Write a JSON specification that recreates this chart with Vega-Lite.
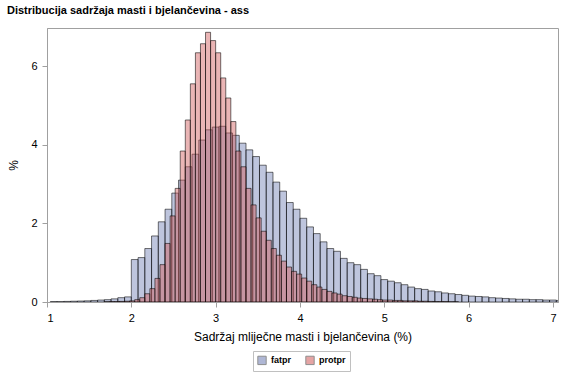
{
"$schema": "https://vega.github.io/schema/vega-lite/v6.json",
"width": 511, "height": 274,
"autosize": {"type": "none"},
"padding": {"left": 47, "top": 28, "right": 9, "bottom": 76},
"background": "white",
"title": {"text": "Distribucija sadržaja masti i bjelančevina - ass", "anchor": "start", "frame": "group", "dx": -40, "offset": 12, "font": "Liberation Sans", "fontSize": 11, "fontWeight": "bold", "color": "black"},
"config": {
  "view": {"stroke": "#a0a0a0", "strokeWidth": 1},
  "axis": {"labelFont": "Liberation Sans", "titleFont": "Liberation Sans", "labelFontSize": 11, "titleFontSize": 12, "titleFontWeight": "normal", "labelColor": "black", "titleColor": "black", "domainColor": "#a0a0a0", "tickColor": "#a0a0a0", "tickSize": 5, "grid": false},
  "legend": {"labelFont": "Liberation Sans", "labelFontSize": 10}
},
"data": {"values": [
{"s":"fatpr","a":1.04,"b":1.12,"p":0.01},{"s":"fatpr","a":1.12,"b":1.20,"p":0.01},{"s":"fatpr","a":1.20,"b":1.28,"p":0.015},{"s":"fatpr","a":1.28,"b":1.36,"p":0.02},{"s":"fatpr","a":1.36,"b":1.44,"p":0.025},{"s":"fatpr","a":1.44,"b":1.52,"p":0.03},{"s":"fatpr","a":1.52,"b":1.60,"p":0.04},{"s":"fatpr","a":1.60,"b":1.68,"p":0.05},{"s":"fatpr","a":1.68,"b":1.76,"p":0.06},{"s":"fatpr","a":1.76,"b":1.84,"p":0.08},{"s":"fatpr","a":1.84,"b":1.92,"p":0.11},{"s":"fatpr","a":1.92,"b":2.00,"p":0.13},
{"s":"fatpr","a":2.00,"b":2.08,"p":1.08},{"s":"fatpr","a":2.08,"b":2.16,"p":1.13},{"s":"fatpr","a":2.16,"b":2.24,"p":1.36},{"s":"fatpr","a":2.24,"b":2.32,"p":1.68},{"s":"fatpr","a":2.32,"b":2.40,"p":2.04},{"s":"fatpr","a":2.40,"b":2.48,"p":2.36},{"s":"fatpr","a":2.48,"b":2.56,"p":2.77},{"s":"fatpr","a":2.56,"b":2.64,"p":3.10},{"s":"fatpr","a":2.64,"b":2.72,"p":3.44},{"s":"fatpr","a":2.72,"b":2.80,"p":3.76},{"s":"fatpr","a":2.80,"b":2.88,"p":4.12},{"s":"fatpr","a":2.88,"b":2.96,"p":4.38},{"s":"fatpr","a":2.96,"b":3.04,"p":4.45},{"s":"fatpr","a":3.04,"b":3.12,"p":4.47},{"s":"fatpr","a":3.12,"b":3.20,"p":4.30},{"s":"fatpr","a":3.20,"b":3.28,"p":4.24},{"s":"fatpr","a":3.28,"b":3.36,"p":4.04},{"s":"fatpr","a":3.36,"b":3.44,"p":3.87},{"s":"fatpr","a":3.44,"b":3.52,"p":3.70},{"s":"fatpr","a":3.52,"b":3.60,"p":3.48},{"s":"fatpr","a":3.60,"b":3.68,"p":3.30},{"s":"fatpr","a":3.68,"b":3.76,"p":3.05},{"s":"fatpr","a":3.76,"b":3.84,"p":2.82},{"s":"fatpr","a":3.84,"b":3.92,"p":2.53},{"s":"fatpr","a":3.92,"b":4.00,"p":2.36},{"s":"fatpr","a":4.00,"b":4.08,"p":2.13},{"s":"fatpr","a":4.08,"b":4.16,"p":1.91},{"s":"fatpr","a":4.16,"b":4.24,"p":1.74},{"s":"fatpr","a":4.24,"b":4.32,"p":1.53},{"s":"fatpr","a":4.32,"b":4.40,"p":1.36},{"s":"fatpr","a":4.40,"b":4.48,"p":1.29},{"s":"fatpr","a":4.48,"b":4.56,"p":1.11},{"s":"fatpr","a":4.56,"b":4.64,"p":1.00},{"s":"fatpr","a":4.64,"b":4.72,"p":0.95},{"s":"fatpr","a":4.72,"b":4.80,"p":0.83},{"s":"fatpr","a":4.80,"b":4.88,"p":0.72},{"s":"fatpr","a":4.88,"b":4.96,"p":0.67},{"s":"fatpr","a":4.96,"b":5.04,"p":0.57},{"s":"fatpr","a":5.04,"b":5.12,"p":0.53},{"s":"fatpr","a":5.12,"b":5.20,"p":0.49},{"s":"fatpr","a":5.20,"b":5.28,"p":0.44},{"s":"fatpr","a":5.28,"b":5.36,"p":0.38},{"s":"fatpr","a":5.36,"b":5.44,"p":0.34},{"s":"fatpr","a":5.44,"b":5.52,"p":0.32},{"s":"fatpr","a":5.52,"b":5.60,"p":0.28},{"s":"fatpr","a":5.60,"b":5.68,"p":0.26},{"s":"fatpr","a":5.68,"b":5.76,"p":0.23},{"s":"fatpr","a":5.76,"b":5.84,"p":0.21},{"s":"fatpr","a":5.84,"b":5.92,"p":0.19},{"s":"fatpr","a":5.92,"b":6.00,"p":0.17},{"s":"fatpr","a":6.00,"b":6.08,"p":0.15},{"s":"fatpr","a":6.08,"b":6.16,"p":0.14},{"s":"fatpr","a":6.16,"b":6.24,"p":0.13},{"s":"fatpr","a":6.24,"b":6.32,"p":0.11},{"s":"fatpr","a":6.32,"b":6.40,"p":0.10},{"s":"fatpr","a":6.40,"b":6.48,"p":0.09},{"s":"fatpr","a":6.48,"b":6.56,"p":0.08},{"s":"fatpr","a":6.56,"b":6.64,"p":0.07},{"s":"fatpr","a":6.64,"b":6.72,"p":0.07},{"s":"fatpr","a":6.72,"b":6.80,"p":0.06},{"s":"fatpr","a":6.80,"b":6.88,"p":0.06},{"s":"fatpr","a":6.88,"b":6.96,"p":0.05},{"s":"fatpr","a":6.96,"b":7.04,"p":0.05},{"s":"fatpr","a":7.04,"b":7.12,"p":0.04},
{"s":"protpr","a":1.68,"b":1.74,"p":0.005},{"s":"protpr","a":1.74,"b":1.80,"p":0.01},{"s":"protpr","a":1.80,"b":1.86,"p":0.01},{"s":"protpr","a":1.86,"b":1.92,"p":0.015},{"s":"protpr","a":1.92,"b":1.98,"p":0.02},{"s":"protpr","a":1.98,"b":2.04,"p":0.03},{"s":"protpr","a":2.04,"b":2.10,"p":0.06},{"s":"protpr","a":2.10,"b":2.16,"p":0.11},{"s":"protpr","a":2.16,"b":2.22,"p":0.21},{"s":"protpr","a":2.22,"b":2.28,"p":0.34},{"s":"protpr","a":2.28,"b":2.34,"p":0.60},{"s":"protpr","a":2.34,"b":2.40,"p":0.95},{"s":"protpr","a":2.40,"b":2.46,"p":1.49},{"s":"protpr","a":2.46,"b":2.52,"p":2.19},{"s":"protpr","a":2.52,"b":2.58,"p":2.89},{"s":"protpr","a":2.58,"b":2.64,"p":3.84},{"s":"protpr","a":2.64,"b":2.70,"p":4.63},{"s":"protpr","a":2.70,"b":2.76,"p":5.55},{"s":"protpr","a":2.76,"b":2.82,"p":6.34},{"s":"protpr","a":2.82,"b":2.88,"p":6.57},{"s":"protpr","a":2.88,"b":2.94,"p":6.86},{"s":"protpr","a":2.94,"b":3.00,"p":6.65},{"s":"protpr","a":3.00,"b":3.06,"p":6.34},{"s":"protpr","a":3.06,"b":3.12,"p":5.70},{"s":"protpr","a":3.12,"b":3.18,"p":5.19},{"s":"protpr","a":3.18,"b":3.24,"p":4.59},{"s":"protpr","a":3.24,"b":3.30,"p":3.84},{"s":"protpr","a":3.30,"b":3.36,"p":3.44},{"s":"protpr","a":3.36,"b":3.42,"p":2.89},{"s":"protpr","a":3.42,"b":3.48,"p":2.47},{"s":"protpr","a":3.48,"b":3.54,"p":2.14},{"s":"protpr","a":3.54,"b":3.60,"p":1.80},{"s":"protpr","a":3.60,"b":3.66,"p":1.57},{"s":"protpr","a":3.66,"b":3.72,"p":1.36},{"s":"protpr","a":3.72,"b":3.78,"p":1.19},{"s":"protpr","a":3.78,"b":3.84,"p":1.04},{"s":"protpr","a":3.84,"b":3.90,"p":0.89},{"s":"protpr","a":3.90,"b":3.96,"p":0.78},{"s":"protpr","a":3.96,"b":4.02,"p":0.71},{"s":"protpr","a":4.02,"b":4.08,"p":0.61},{"s":"protpr","a":4.08,"b":4.14,"p":0.53},{"s":"protpr","a":4.14,"b":4.20,"p":0.44},{"s":"protpr","a":4.20,"b":4.26,"p":0.38},{"s":"protpr","a":4.26,"b":4.32,"p":0.32},{"s":"protpr","a":4.32,"b":4.38,"p":0.27},{"s":"protpr","a":4.38,"b":4.44,"p":0.23},{"s":"protpr","a":4.44,"b":4.50,"p":0.20},{"s":"protpr","a":4.50,"b":4.56,"p":0.16},{"s":"protpr","a":4.56,"b":4.62,"p":0.14},{"s":"protpr","a":4.62,"b":4.68,"p":0.12},{"s":"protpr","a":4.68,"b":4.74,"p":0.10},{"s":"protpr","a":4.74,"b":4.80,"p":0.09},{"s":"protpr","a":4.80,"b":4.86,"p":0.08},{"s":"protpr","a":4.86,"b":4.92,"p":0.07},{"s":"protpr","a":4.92,"b":4.98,"p":0.06},{"s":"protpr","a":4.98,"b":5.04,"p":0.05},{"s":"protpr","a":5.04,"b":5.10,"p":0.05},{"s":"protpr","a":5.10,"b":5.16,"p":0.04},{"s":"protpr","a":5.16,"b":5.22,"p":0.04},{"s":"protpr","a":5.22,"b":5.28,"p":0.03},{"s":"protpr","a":5.28,"b":5.34,"p":0.03},{"s":"protpr","a":5.34,"b":5.40,"p":0.03},{"s":"protpr","a":5.40,"b":5.46,"p":0.02},{"s":"protpr","a":5.46,"b":5.52,"p":0.02},{"s":"protpr","a":5.52,"b":5.58,"p":0.015},{"s":"protpr","a":5.58,"b":5.64,"p":0.01},{"s":"protpr","a":5.64,"b":5.70,"p":0.01},{"s":"protpr","a":5.70,"b":5.76,"p":0.01},{"s":"protpr","a":5.76,"b":5.82,"p":0.005},{"s":"protpr","a":5.82,"b":5.88,"p":0.005}
]},
"mark": {"type": "bar", "orient": "vertical", "clip": true, "fillOpacity": 0.45, "stroke": "#000", "strokeOpacity": 0.55, "strokeWidth": 1},
"encoding": {
  "x": {"field": "a", "type": "quantitative", "scale": {"domain": [1, 7.06], "nice": false, "zero": false, "padding": 0}, "axis": {"values": [1,2,3,4,5,6,7], "format": "d", "title": "Sadržaj mliječne masti i bjelančevina (%)", "labelPadding": 5, "titlePadding": 8}},
  "x2": {"field": "b"},
  "y": {"field": "p", "type": "quantitative", "stack": null, "scale": {"domain": [0, 6.97], "nice": false, "padding": 0}, "axis": {"values": [0,2,4,6], "format": "d", "title": "%", "titleX": -27, "titleAngle": -90, "labelPadding": 5}},
  "y2": {"datum": 0},
  "color": {"field": "s", "type": "nominal", "sort": ["fatpr", "protpr"], "scale": {"domain": ["fatpr", "protpr"], "range": ["#6F7EB3", "#D05B5B"]},
    "legend": {"title": null, "orient": "none", "legendX": 206, "legendY": 323, "direction": "horizontal", "symbolType": "square", "symbolSize": 70, "symbolStrokeColor": "#333", "symbolStrokeWidth": 1, "symbolOpacity": 0.55, "strokeColor": "#c0c0c0", "padding": 4, "columnPadding": 12, "labelFontWeight": "bold", "labelFontSize": 9}}
}
}
